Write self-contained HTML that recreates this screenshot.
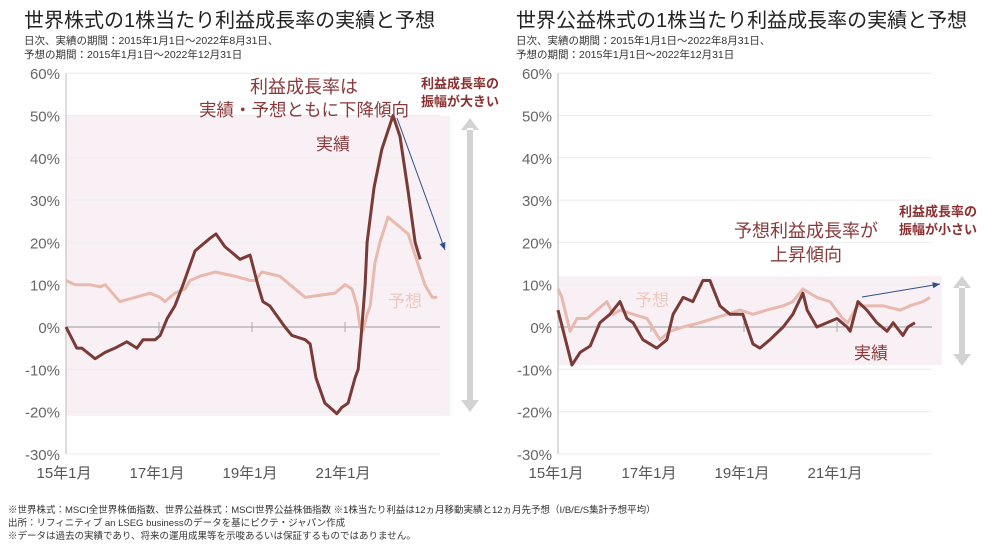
<!DOCTYPE html>
<html><head><meta charset="utf-8">
<style>
body{margin:0;background:#fff;width:997px;height:548px;overflow:hidden;font-family:"Liberation Sans","Noto Sans CJK JP",sans-serif;}
svg text{font-family:"Liberation Sans","Noto Sans CJK JP",sans-serif;}
</style></head>
<body>
<svg id="c" width="997" height="548" viewBox="0 0 997 548" xmlns="http://www.w3.org/2000/svg">
<text x="24" y="27" font-size="20" fill="#222">世界株式の1株当たり利益成長率の実績と予想</text>
<text x="24" y="44" font-size="10.5" fill="#333">日次、実績の期間：2015年1月1日～2022年8月31日、</text>
<text x="24" y="58" font-size="10.5" fill="#333">予想の期間：2015年1月1日～2022年12月31日</text>
<text x="516" y="27" font-size="20" fill="#222">世界公益株式の1株当たり利益成長率の実績と予想</text>
<text x="516" y="44" font-size="10.5" fill="#333">日次、実績の期間：2015年1月1日～2022年8月31日、</text>
<text x="516" y="58" font-size="10.5" fill="#333">予想の期間：2015年1月1日～2022年12月31日</text>
<g id="L"></g><g id="R"></g>
<text x="304" y="93" font-size="18" fill="#8b3a3a" text-anchor="middle">利益成長率は</text>
<text x="304" y="116" font-size="17.5" fill="#8b3a3a" text-anchor="middle">実績・予想ともに下降傾向</text>
<text x="333" y="150" font-size="17" fill="#8b3a3a" text-anchor="middle">実績</text>
<text x="405" y="307" font-size="17" fill="#efc9c0" text-anchor="middle">予想</text>
<text x="460" y="88" font-size="13" font-weight="bold" fill="#8b2f2f" text-anchor="middle">利益成長率の</text>
<text x="460" y="106" font-size="13" font-weight="bold" fill="#8b2f2f" text-anchor="middle">振幅が大きい</text>
<text x="806" y="237" font-size="18" fill="#8b3a3a" text-anchor="middle">予想利益成長率が</text>
<text x="806" y="261" font-size="18" fill="#8b3a3a" text-anchor="middle">上昇傾向</text>
<text x="652" y="306" font-size="17" fill="#efc9c0" text-anchor="middle">予想</text>
<text x="871" y="359" font-size="17" fill="#8b3a3a" text-anchor="middle">実績</text>
<text x="938" y="216" font-size="13" font-weight="bold" fill="#8b2f2f" text-anchor="middle">利益成長率の</text>
<text x="938" y="234" font-size="13" font-weight="bold" fill="#8b2f2f" text-anchor="middle">振幅が小さい</text>
<text x="8" y="513" font-size="9.5" fill="#333">※世界株式：MSCI全世界株価指数、世界公益株式：MSCI世界公益株価指数 ※1株当たり利益は12ヵ月移動実績と12ヵ月先予想（I/B/E/S集計予想平均）</text>
<text x="8" y="526" font-size="9.5" fill="#333">出所：リフィニティブ an LSEG businessのデータを基にピクテ・ジャパン作成</text>
<text x="8" y="539" font-size="9.5" fill="#333">※データは過去の実績であり、将来の運用成果等を示唆あるいは保証するものではありません。</text>
</svg>
<script>
const yTicks=[60,50,40,30,20,10,0,-10,-20,-30];
const xTickLabels=["15年1月","17年1月","19年1月","21年1月"];
const xTickMonths=[0,24,48,72];
const leftActualMonths=[0,2.8,4.1,7.5,10.1,12.6,15.7,18.3,19.9,23,24.3,26.1,28.1,30.2,33.3,37.2,38.7,41,44.9,47.5,49.5,50.8,52.6,56.5,58.3,61.7,63,64.5,66.8,68.1,69.9,71.2,72.8,74.6,75.4,76.1,77.2,77.7,79.5,81.5,84.4,86.2,88.3,90.1,91.4];
const leftActualValues=[0,-5,-5,-7.5,-6,-5,-3.5,-5,-3,-3,-2,2,5,10,18,21,22,19,16,17,10,6,5,0,-2,-3,-4,-12,-18,-19,-20.5,-19,-18,-12,-10,-3,10,20,33,42,50,45,32,20,16];
const leftForecastMonths=[0,2.3,6.2,8.8,10.1,13.9,17.8,21.7,24.3,25.5,28.1,30.7,32,34.6,38.5,43.6,47.5,48.8,50.6,55.2,59.1,61.7,65.5,69.4,72,73.8,75.1,75.9,76.6,77.7,78.5,79.7,81,83.1,85.7,88.3,90.8,92.6,94.5,95.8];
const leftForecastValues=[11,10,10,9.5,10,6,7,8,7,6,8,9,11,12,13,12,11,11,13,12,9,7,7.5,8,10,9,5,0,-1,3,5,15,20,26,24,22,15,10,7,7];
const rightActualMonths=[0,3.6,5.7,8.3,10.8,13.4,16,17.8,19.4,21.9,25.5,28.1,29.7,32.3,34.8,37.4,39.2,41.8,44.4,47.7,50.3,52.1,54.7,58.1,60.6,63.2,64.3,66.8,69.4,72,74.6,75.4,77.4,79.7,82.3,84.9,86.5,89,90.3,92.1];
const rightActualValues=[4,-9,-6,-4.5,1,3,6,2,1,-3,-5,-3,3,7,6,11,11,5,3,3,-4,-5,-3,0,3,8,4,0,1,2,0,-1,6,4,1,-1,1,-2,0,1];
const rightForecastMonths=[0,1,3.1,4.9,7.5,10.1,12.6,14.2,16,19.4,23,26.3,28.9,32.3,36.6,40,43.6,47,50.3,53.9,58.1,60.6,63.2,66.8,70.2,73.5,74.8,77.2,79.7,83.9,88.3,90.8,94.2,96];
const rightForecastValues=[9,7,-1,2,2,4,6,3,4,3,2,-3,-1,0,1,2,3,4,3,4,5,6,9,7,6,2,1,5,5,5,4,5,6,7];

const NS="http://www.w3.org/2000/svg";
function mk(p,tag,attrs){const e=document.createElementNS(NS,tag);for(const k in attrs)e.setAttribute(k,attrs[k]);p.appendChild(e);return e;}
function yS(v){return 327-v*4.23;}
function draw(g,x0,band,aM,aV,fM,fV,side,arrowY,blue){
  const xS=m=>x0+m*3.875;
  const b=mk(g,'rect',{x:x0,y:yS(band[0]),width:384,height:yS(band[1])-yS(band[0]),fill:'#f8f0f5'});
  
  yTicks.forEach(v=>{
    const l=mk(g,'line',{x1:x0,x2:x0+374,y1:yS(v),y2:yS(v),stroke:v===0?'#9a9a9a':'#ececec','stroke-width':1});
    
    const t=mk(g,'text',{x:x0-6,y:yS(v)+6,'font-size':15,fill:'#666','text-anchor':'end'});
    t.textContent=v+'%';
    
  });
  const ax=mk(g,'line',{x1:x0,x2:x0,y1:yS(60),y2:yS(-30),stroke:'#bbb','stroke-width':1});
  
  xTickMonths.forEach((m,i)=>{
    if(i>0){const tk=mk(g,'line',{x1:xS(m),x2:xS(m),y1:yS(0)-5,y2:yS(0)+5,stroke:'#aaa'});
      }
    const t=mk(g,'text',{x:xS(m)-2,y:478,'font-size':15,fill:'#555','text-anchor':'middle'});
    t.textContent=xTickLabels[i];
    
  });
  const fp=mk(g,'polyline',{points:fM.map((m,i)=>xS(m)+','+yS(fV[i])).join(' '),fill:'none',stroke:'#e8b9ae','stroke-width':3,'stroke-linejoin':'round'});
  
  const ap=mk(g,'polyline',{points:aM.map((m,i)=>xS(m)+','+yS(aV[i])).join(' '),fill:'none',stroke:'#7a3b36','stroke-width':3,'stroke-linejoin':'round'});
  
  const ax2=x0+404;
  const ar=mk(g,'path',{d:`M${ax2-3},${arrowY[0]+10}h6v${arrowY[1]-arrowY[0]-20}h-6z M${ax2},${arrowY[0]} l-9,12h18z M${ax2},${arrowY[1]} l-9,-12h18z`,fill:'#d3d3d3'});
  
  const bl=mk(g,'line',{x1:blue[0],y1:blue[1],x2:blue[2],y2:blue[3],stroke:'#2f4f8f','stroke-width':1});
  
  const a=Math.atan2(blue[3]-blue[1],blue[2]-blue[0]);
  const h=mk(g,'path',{d:`M${blue[2]},${blue[3]} L${blue[2]-8*Math.cos(a-0.4)},${blue[3]-8*Math.sin(a-0.4)} L${blue[2]-8*Math.cos(a+0.4)},${blue[3]-8*Math.sin(a+0.4)}Z`,fill:'#2f4f8f'});
  
}
draw(document.getElementById('L'),66,[50,-21],leftActualMonths,leftActualValues,leftForecastMonths,leftForecastValues,'left',[118,412],[397,118,445,250]);
draw(document.getElementById('R'),558,[12,-9],rightActualMonths,rightActualValues,rightForecastMonths,rightForecastValues,'right',[276,366],[862,297,940,284]);
</script>
</body></html>
